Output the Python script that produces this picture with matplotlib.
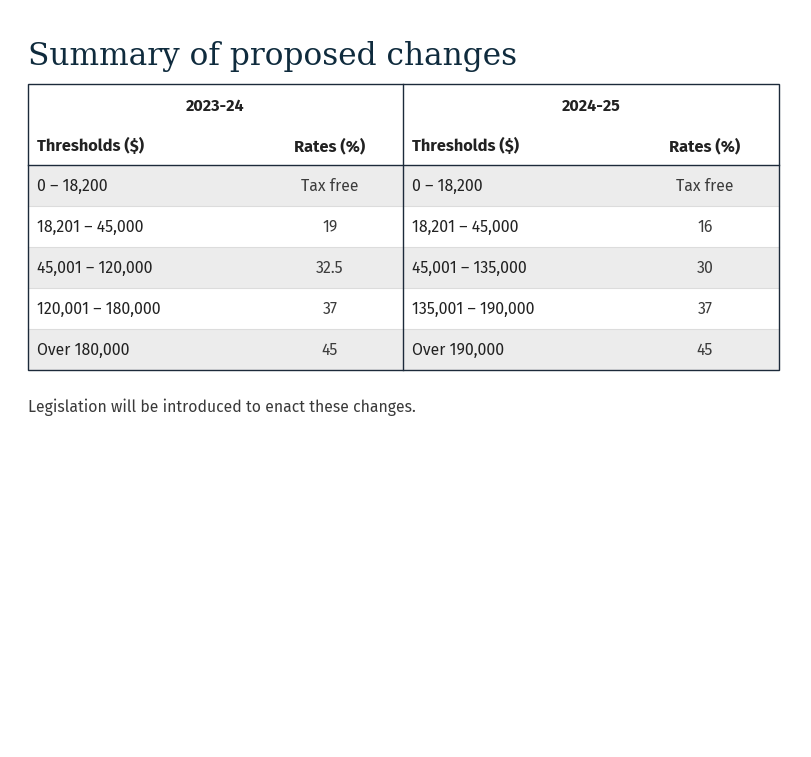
import matplotlib
matplotlib.use("Agg")
from matplotlib import pyplot as plt
from matplotlib.patches import Rectangle

title = 'Summary of proposed changes'
years = ['2023-24', '2024-25']
col_heads = ['Thresholds ($)', 'Rates (%)']
thresholds_2324 = ['0 – 18,200', '18,201 – 45,000', '45,001 – 120,000',
                   '120,001 – 180,000', 'Over 180,000']
rates_2324 = ['Tax free', '19', '32.5', '37', '45']
thresholds_2425 = ['0 – 18,200', '18,201 – 45,000', '45,001 – 135,000',
                   '135,001 – 190,000', 'Over 190,000']
rates_2425 = ['Tax free', '16', '30', '37', '45']
note = 'Legislation will be introduced to enact these changes.'

W, H = 812, 757
fig = plt.figure(figsize=(W / 100, H / 100), dpi=100)
ax = fig.add_axes([0, 0, 1, 1])
ax.set_xlim(0, W)
ax.set_ylim(H, 0)
ax.axis('off')

dark = '#1c2a3a'
txt = '#222222'
body = ['Fira Sans', 'Open Sans', 'DejaVu Sans']

ax.text(28, 65, title, fontsize=22.5, color='#0f2b3d', family=['DejaVu Serif'],
        va='baseline', ha='left')

left, right, mid = 28, 779, 403
top, head_bot, row_h = 84, 165, 41
nrows = len(thresholds_2324)
bottom = head_bot + nrows * row_h

# row shading and separators
for i in range(nrows):
    y0 = head_bot + i * row_h
    if i % 2 == 0:
        ax.add_patch(Rectangle((left, y0), right - left, row_h,
                               facecolor='#ececec', edgecolor='none', zorder=0))
    if i > 0:
        ax.plot([left, right], [y0, y0], color='#dcdcdc', lw=0.8, zorder=1)

# borders
ax.add_patch(Rectangle((left, top), right - left, bottom - top, fill=False,
                       edgecolor=dark, lw=1.0, zorder=3))
ax.plot([mid, mid], [top, bottom], color=dark, lw=1.0, zorder=3)
ax.plot([left, right], [head_bot, head_bot], color=dark, lw=1.0, zorder=3)

blocks = [(left, mid, thresholds_2324, rates_2324),
          (mid, right, thresholds_2425, rates_2425)]
for (x0, x1, thr, rts), yr in zip(blocks, years):
    ax.text((x0 + x1) / 2, 111, yr, ha='center', va='baseline', fontsize=11.5,
            fontweight='bold', color=txt, family=body)
    ax.text(x0 + 9, 151, col_heads[0], ha='left', va='baseline', fontsize=11.8,
            fontweight='bold', color=txt, family=body)
    rx = x0 + 302
    ax.text(rx, 151, col_heads[1], ha='center', va='baseline', fontsize=11.8,
            fontweight='bold', color=txt, family=body)
    for i, (t, r) in enumerate(zip(thr, rts)):
        yb = head_bot + i * row_h + 26
        ax.text(x0 + 9, yb, t, ha='left', va='baseline', fontsize=11.4,
                color=txt, family=body)
        ax.text(rx, yb, r, ha='center', va='baseline', fontsize=11.4,
                color='#3c3c3c', family=body)

ax.text(28, 412, note, ha='left', va='baseline', fontsize=11.4,
        color='#3a3a3a', family=body)

fig.savefig('out.png', dpi=100, facecolor='white')
